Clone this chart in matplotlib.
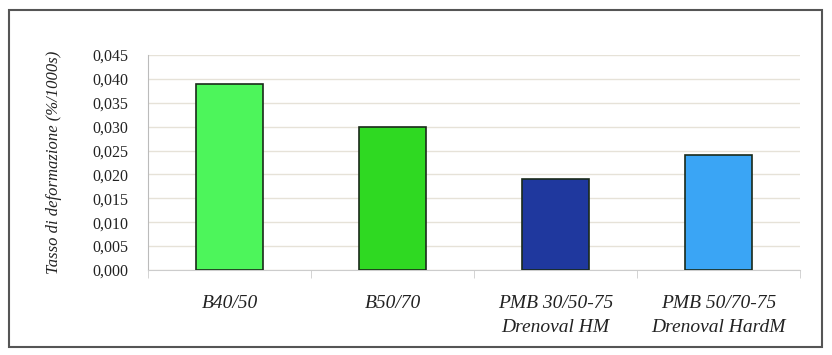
import matplotlib.pyplot as plt
from matplotlib.patches import Rectangle
import numpy as np

# Deformation rate per binder type
binders = ["B40/50", "B50/70", "PMB 30/50-75\nDrenoval HM", "PMB 50/70-75\nDrenoval HardM"]
rates = [0.039, 0.030, 0.019, 0.024]
colors = ["#4df55b", "#2fd922", "#1f389e", "#3aa5f5"]
yticks = [0.000, 0.005, 0.010, 0.015, 0.020, 0.025, 0.030, 0.035, 0.040, 0.045]

plt.rcParams["font.family"] = ["Liberation Serif", "DejaVu Serif"]

fig = plt.figure(figsize=(8.32, 3.55), dpi=100)
ax = fig.add_axes([148/832, 1 - 270/355, 652/832, 215/355])

x = np.arange(len(binders))
ax.bar(x, rates, width=0.405, color=colors, edgecolor="#1a2a1a", linewidth=1.2, zorder=3)

ax.set_xlim(-0.5, len(binders) - 0.5)
ax.set_ylim(0, 0.045)
ax.set_yticks(yticks)
ax.set_yticklabels([f"{v:.3f}".replace(".", ",") for v in yticks], fontsize=11.5, color="#222222")
ax.set_ylabel("Tasso di deformazione (%/1000s)", fontstyle="italic", fontsize=12,
              color="#222222", labelpad=22)

ax.set_xticks(x)
ax.set_xticklabels(binders, fontstyle="italic", fontsize=14, color="#222222", linespacing=1.55)
ax.tick_params(axis="x", length=0, pad=18)
ax.set_xticks(np.arange(len(binders) + 1) - 0.5, minor=True)
ax.tick_params(axis="x", which="minor", length=6, color="#cccccc")
ax.tick_params(axis="y", length=0, pad=14)

ax.grid(axis="y", color="#e6e2d8", linewidth=1, zorder=0)
for side in ["top", "right"]:
    ax.spines[side].set_visible(False)
ax.spines["left"].set_color("#bbbbbb")
ax.spines["bottom"].set_color("#cccccc")

# outer frame of the chart
fig.patches.append(Rectangle((9/832, 1 - 347/355), 813/832, 337/355, transform=fig.transFigure,
                             fill=False, edgecolor="#555555", linewidth=1.5))

plt.savefig("out.png", dpi=100)
